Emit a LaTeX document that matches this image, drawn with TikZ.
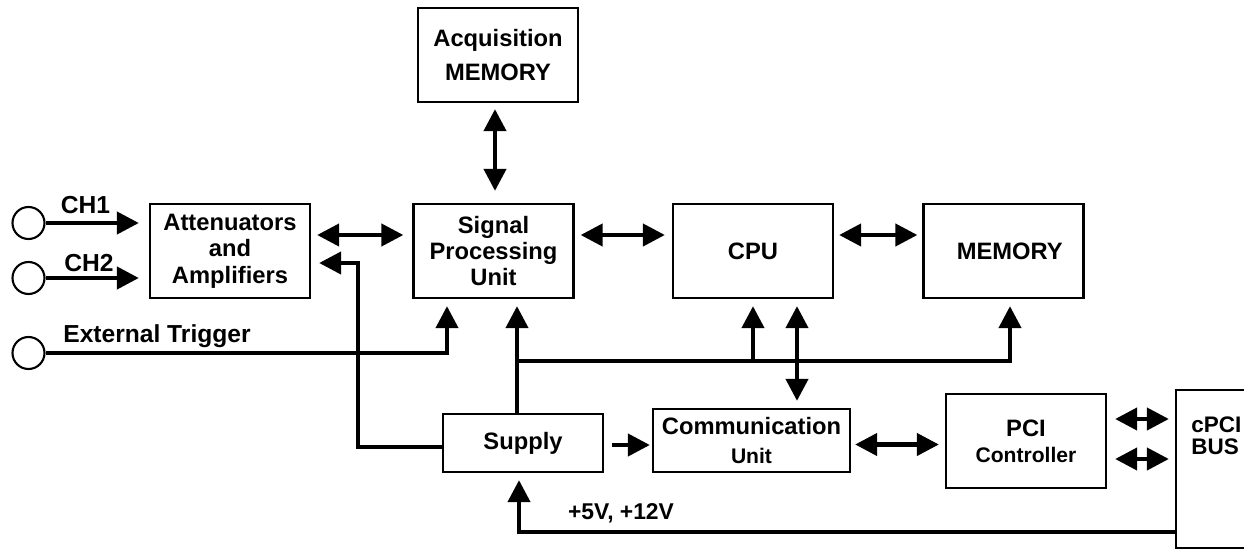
\documentclass[tikz,border=0pt]{standalone}
\usepackage{fontspec}
\setmainfont{Liberation Sans}
\usepackage{xcolor}
\usepackage{tikz}
\usetikzlibrary{calc,arrows.meta,positioning}
\definecolor{blkline}{RGB}{0,0,0}

\tikzset{
  blk/.style={draw=blkline, line width=1.3pt, align=center, inner sep=2pt,
    minimum width=3.2cm, minimum height=1.88cm,
    font=\bfseries\fontsize{13.5}{15}\selectfont},
  port/.style={draw=blkline, circle, line width=1.2pt, inner sep=0pt, minimum size=0.64cm},
  lbl/.style={font=\bfseries\fontsize{14}{16}\selectfont, inner sep=0pt},
  arr/.style={blkline, line width=2.4pt, -{Triangle[length=0.44cm,width=0.44cm]}},
  darr/.style={blkline, line width=2.4pt, {Triangle[length=0.44cm,width=0.44cm]}-{Triangle[length=0.44cm,width=0.44cm]}}
}

\begin{document}
\begin{tikzpicture}
\useasboundingbox (0,0) rectangle (24.88,-11);

% blocks
\node[blk, font=\bfseries\fontsize{13.5}{19}\selectfont] (acq) at (9.96,-1.10) {Acquisition\\MEMORY};
\node[blk] (att) at (4.60,-5.02) {Attenuators\\and\\Amplifiers};
\node[blk] (spu) at (9.87,-5.02) {Signal\\Processing\\Unit};
\node[blk] (cpu) at (15.06,-5.02) {CPU};
\node[blk] (mem) at (20.07,-5.02) {\hspace{0.25cm}MEMORY};
\node[blk, minimum height=1.16cm] (sup) at (10.46,-8.86) {Supply};
\node[blk, minimum width=3.94cm, minimum height=1.26cm, font=\bfseries\fontsize{13.5}{16}\selectfont]
  (com) at (15.03,-8.81) {Communication\\{\fontsize{12}{13}\selectfont Unit}};
\node[blk] (pci) at (20.52,-8.82) {PCI\\{\fontsize{12}{14}\selectfont Controller}};
\node[blk, minimum width=2.4cm, minimum height=3.16cm] (bus) at (24.72,-9.38) {};
\node[lbl, anchor=north west, align=left, font=\bfseries\fontsize{12.8}{13}\selectfont]
  (buslbl) at (23.82,-8.32) {cPCI\\BUS};

% inputs
\node[port] (ch1) at (0.57,-4.46) {};
\node[port] (ch2) at (0.57,-5.56) {};
\node[port] (ext) at (0.57,-7.06) {};
\node[lbl] (lch1) at (1.71,-4.10) {CH1};
\node[lbl] (lch2) at (1.78,-5.26) {CH2};
\node[lbl, anchor=west] (lext) at (1.26,-6.72) {External Trigger};
\node[lbl, font=\bfseries\fontsize{13}{15}\selectfont] (lpwr) at (12.42,-10.26) {+5V, +12V};

\coordinate (tap) at (10.34,-7.22);
\coordinate (fb) at (7.16,-5.26);
\coordinate (cc) at ($(cpu.south)+(0.88,0)$);

% connections
\draw[arr] (ch1.east) -- ([xshift=-0.2cm]att.west |- ch1.east);
\draw[arr] (ch2.east) -- ([xshift=-0.2cm]att.west |- ch2.east);
\draw[arr] (ext.east) -| ([xshift=-0.93cm,yshift=-0.14cm]spu.south);
\draw[darr] ([xshift=0.12cm,yshift=0.32cm]att.east) -- ([xshift=-0.18cm,yshift=0.32cm]spu.west);
\draw[darr] ([xshift=0.12cm,yshift=0.32cm]spu.east) -- ([xshift=-0.14cm,yshift=0.32cm]cpu.west);
\draw[darr] ([xshift=0.10cm,yshift=0.32cm]cpu.east) -- ([xshift=-0.10cm,yshift=0.32cm]mem.west);
\draw[darr] ([xshift=-0.06cm,yshift=-0.12cm]acq.south) -- ([xshift=-0.06cm,yshift=0.24cm]acq.south |- spu.north);
\draw[arr] (tap |- sup.north) -- ([yshift=-0.14cm]tap |- spu.south);
\draw[arr] (tap) -| ([xshift=0.13cm,yshift=-0.14cm]mem.south);
\draw[arr] (cpu.south |- tap) -- ([yshift=-0.14cm]cpu.south);
\draw[darr] ([yshift=-0.14cm]cc) -- ([yshift=0.14cm]cc |- com.north);
\draw[arr] ([yshift=-0.08cm]sup.west) -| (fb) -- ([xshift=0.16cm]att.east |- fb);
\draw[arr] ([xshift=0.16cm,yshift=-0.04cm]sup.east) -- ([xshift=-0.04cm,yshift=-0.04cm]sup.east -| com.west);
\draw[darr] ([xshift=0.08cm,yshift=-0.08cm]com.east) -- ([xshift=-0.12cm,yshift=-0.08cm]com.east -| pci.west);
\draw[darr] ([xshift=0.16cm,yshift=0.44cm]pci.east) -- ([xshift=-0.12cm,yshift=0.44cm]pci.east -| bus.west);
\draw[darr] ([xshift=0.16cm,yshift=-0.36cm]pci.east) -- ([xshift=-0.12cm,yshift=-0.36cm]pci.east -| bus.west);
\draw[arr] ([yshift=-1.26cm]bus.west) -| ([xshift=-0.08cm,yshift=-0.14cm]sup.south);
\end{tikzpicture}
\end{document}
